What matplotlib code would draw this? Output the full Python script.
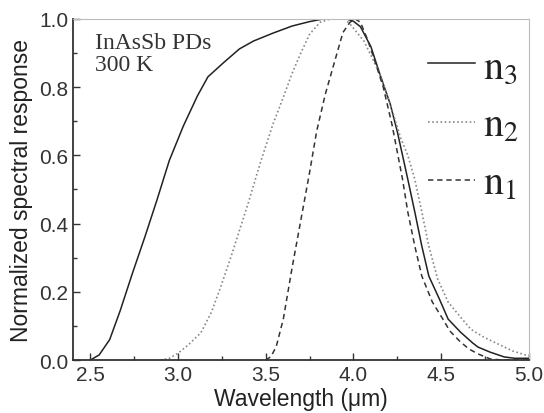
import matplotlib
matplotlib.use('Agg')
import matplotlib.pyplot as plt
from matplotlib.ticker import MultipleLocator

plt.rcParams['font.family'] = ['Liberation Sans', 'DejaVu Sans']
plt.rcParams['mathtext.fontset'] = 'stix'

# wavelength (um) and normalized response for the three devices
wl3 = [2.50, 2.55, 2.61, 2.67, 2.74, 2.81, 2.88, 2.95, 3.03, 3.11, 3.17, 3.26, 3.35,
       3.43, 3.54, 3.65, 3.75, 3.83, 3.90, 3.96, 4.00, 4.04, 4.10, 4.15, 4.21, 4.25,
       4.31, 4.35, 4.39, 4.43, 4.49, 4.54, 4.61, 4.68, 4.71, 4.78, 4.86, 4.92, 5.00]
r3 = [0.00, 0.015, 0.06, 0.145, 0.255, 0.36, 0.47, 0.585, 0.686, 0.774, 0.83, 0.872, 0.912,
      0.935, 0.958, 0.979, 0.992, 1.0, 1.0, 1.0, 0.993, 0.977, 0.918, 0.839, 0.75, 0.67,
      0.53, 0.434, 0.334, 0.246, 0.179, 0.12, 0.082, 0.05, 0.038, 0.023, 0.009, 0.005, 0.005]

wl2 = [2.90, 2.95, 3.00, 3.06, 3.13, 3.19, 3.24, 3.30, 3.35, 3.40, 3.47, 3.54, 3.60,
       3.65, 3.70, 3.75, 3.81, 3.87, 3.95, 3.98, 4.06, 4.15, 4.21, 4.27, 4.31, 4.35,
       4.39, 4.43, 4.48, 4.54, 4.62, 4.67, 4.74, 4.80, 4.91, 5.00]
r2 = [0.00, 0.005, 0.02, 0.045, 0.08, 0.14, 0.21, 0.30, 0.38, 0.46, 0.58, 0.69, 0.77,
      0.84, 0.90, 0.955, 0.99, 1.0, 1.0, 0.985, 0.935, 0.84, 0.75, 0.65, 0.60, 0.53,
      0.434, 0.334, 0.238, 0.17, 0.12, 0.09, 0.068, 0.053, 0.026, 0.012]

wl1 = [3.50, 3.53, 3.56, 3.60, 3.65, 3.70, 3.75, 3.79, 3.84, 3.89, 3.94, 3.98, 4.01,
       4.04, 4.08, 4.12, 4.17, 4.22, 4.28, 4.31, 4.35, 4.39, 4.45, 4.51, 4.55, 4.61,
       4.66, 4.71, 4.78, 4.85, 5.00]
r1 = [0.00, 0.01, 0.04, 0.12, 0.27, 0.41, 0.55, 0.67, 0.78, 0.87, 0.96, 0.99, 1.0,
      0.99, 0.94, 0.88, 0.80, 0.69, 0.53, 0.434, 0.334, 0.246, 0.17, 0.12, 0.085, 0.053,
      0.032, 0.018, 0.003, 0.0, 0.0]

fig = plt.figure(figsize=(5.44, 4.14), dpi=100)
ax = fig.add_axes([0.134, 0.128, 0.838, 0.824])

l3, = ax.plot(wl3, r3, color='#222222', lw=1.1, ls='-')
l2, = ax.plot(wl2, r2, color='#888888', lw=1.2, ls=(0, (1, 1.5)))
l1, = ax.plot(wl1, r1, color='#333333', lw=1.1, ls=(0, (3.5, 2.5)))

ax.set_xlim(2.4, 5.0)
ax.set_ylim(0, 1.0)
ax.xaxis.set_major_locator(MultipleLocator(0.5))
ax.xaxis.set_minor_locator(MultipleLocator(0.25))
ax.yaxis.set_major_locator(MultipleLocator(0.2))
ax.yaxis.set_minor_locator(MultipleLocator(0.1))
ax.tick_params(which='both', direction='in', top=False, right=False,
               labelsize=15, labelcolor='#333333', color='#333333')
ax.tick_params(which='major', length=5, width=1)
ax.tick_params(which='minor', length=3, width=1)

for s in ['left', 'bottom']:
    ax.spines[s].set_color('#333333')
    ax.spines[s].set_linewidth(1.3)
for s in ['top', 'right']:
    ax.spines[s].set_color('#bbbbbb')
    ax.spines[s].set_linewidth(0.8)

ax.set_xlabel('Wavelength (\u03bcm)', fontsize=16.5, color='#222222', labelpad=2)
ax.set_ylabel('Normalized spectral response', fontsize=16.5, color='#222222', labelpad=4)

ax.text(0.048, 0.962, 'InAsSb PDs\n300 K', transform=ax.transAxes, ha='left', va='top',
        family='Liberation Serif', fontsize=17, color='#333333', linespacing=1.05)

leg = ax.legend([l3, l2, l1], [r'$\mathrm{n}_3$', r'$\mathrm{n}_2$', r'$\mathrm{n}_1$'],
                loc='center left', bbox_to_anchor=(0.78, 0.69), frameon=False,
                fontsize=29, handlelength=1.15, handletextpad=0.2, labelspacing=0.5,
                borderpad=0, borderaxespad=0)
for t in leg.get_texts():
    t.set_color('#222222')

fig.savefig('out.png', dpi=100)
